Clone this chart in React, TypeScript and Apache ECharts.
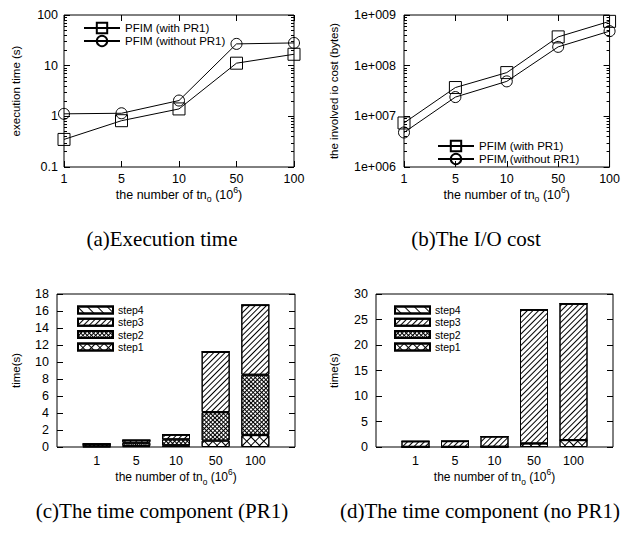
import React, { useEffect, useRef } from 'react';
import * as echarts from 'echarts';

// ---------- data ----------
const categories = ['1', '5', '10', '50', '100'];
const seriesNames = ['PFIM (with PR1)', 'PFIM (without PR1)'];
const execWithPR1 = [0.35, 0.82, 1.4, 11.2, 16.8];
const execWithoutPR1 = [1.12, 1.15, 2.05, 26.9, 28.1];
const ioWithPR1 = [7.4e6, 3.7e7, 7.3e7, 3.7e8, 7.5e8];
const ioWithoutPR1 = [4.8e6, 2.4e7, 4.9e7, 2.35e8, 4.8e8];

const stepNames = ['step1', 'step2', 'step3', 'step4'];
const pr1Step1 = [0.05, 0.1, 0.2, 0.75, 1.4];
const pr1Step2 = [0.25, 0.4, 0.7, 3.35, 7.1];
const pr1Step3 = [0.05, 0.3, 0.55, 7.1, 8.2];
const pr1Step4 = [0, 0, 0, 0, 0];
const noPr1Step1 = [0.03, 0.03, 0.05, 0.7, 1.35];
const noPr1Step2 = [0, 0, 0, 0, 0];
const noPr1Step3 = [1.09, 1.12, 2.0, 26.2, 26.75];
const noPr1Step4 = [0, 0, 0, 0, 0];

const execDecades = [-1, 0, 1, 2]; // 0.1 .. 100
const ioDecades = [6, 7, 8, 9]; // 1e6 .. 1e9

const captions = [
  '(a)Execution time',
  '(b)The I/O cost',
  '(c)The time component (PR1)',
  '(d)The time component (no PR1)',
];
const xName = 'the number of tn{sub|o} (10{sup|6})';

// ---------- helpers ----------
const SANS = '"Liberation Sans", Arial, Helvetica, sans-serif';
const SERIF = '"Liberation Serif", "Times New Roman", Times, serif';

const minorOf = (decades: number[]) => {
  const out: number[] = [];
  for (let i = 0; i < decades.length - 1; i++) {
    for (let k = 2; k <= 9; k++) out.push(decades[i] + Math.log10(k));
  }
  return out;
};

const pad = (arr: number[]) => [null, ...arr, null];
const padCats = ['', ...categories, ''];

const gridRows = (cell: number) => {
  const rows: number[][] = [[1, 0]];
  for (let i = 0; i < cell - 1; i++) rows.push([1, cell - 1]);
  return rows;
};

const decals: any = {
  step4: { symbol: 'rect', symbolSize: 1, dashArrayX: [1, 0], dashArrayY: [1, 6], rotation: Math.PI / 4, color: '#000' },
  step3: { symbol: 'rect', symbolSize: 1, dashArrayX: [1, 0], dashArrayY: [1, 2.5], rotation: -Math.PI / 4, color: '#000' },
  step2: { symbol: 'rect', symbolSize: 1, dashArrayX: gridRows(3), dashArrayY: [1, 0], rotation: Math.PI / 4, color: '#000' },
  step1: { symbol: 'rect', symbolSize: 1, dashArrayX: gridRows(6), dashArrayY: [1, 0], rotation: Math.PI / 4, color: '#000' },
};

const nameStyle = (fs: number) => ({
  color: '#000',
  fontFamily: SANS,
  fontSize: fs,
  lineHeight: 18,
  rich: {
    sub: { fontFamily: SANS, fontSize: fs * 0.7, lineHeight: 8, verticalAlign: 'bottom', color: '#000' },
    sup: { fontFamily: SANS, fontSize: fs * 0.7, lineHeight: 8, verticalAlign: 'top', color: '#000' },
  },
});

export default function App() {
  const ref = useRef<HTMLDivElement>(null);
  useEffect(() => {
    document.body.style.margin = '0';
    if (!ref.current) return;
    const chart = echarts.init(ref.current, null, { renderer: 'svg' });

    const grids = [
      { left: 64, top: 15, width: 230, height: 152 },
      { left: 404, top: 15, width: 209, height: 152 },
      { left: 57, top: 294, width: 238, height: 153 },
      { left: 376, top: 294, width: 237, height: 153 },
    ].map((g) => ({ ...g, show: true, borderColor: '#000', borderWidth: 1, backgroundColor: 'transparent', containLabel: false }));

    const catAxisBottom = (gi: number, fs: number, gap: number) => ({
      type: 'category',
      gridIndex: gi,
      data: categories,
      boundaryGap: false,
      position: 'bottom',
      axisLine: { show: false, onZero: false },
      axisTick: { show: true, inside: true, length: 6, lineStyle: { color: '#000' } },
      axisLabel: { color: '#000', fontFamily: SANS, fontSize: 12.5, margin: 5 },
      splitLine: { show: false },
      name: xName,
      nameLocation: 'middle',
      nameGap: gap,
      nameTextStyle: nameStyle(fs),
    });
    const catAxisTop = (gi: number) => ({
      type: 'category',
      gridIndex: gi,
      data: categories,
      boundaryGap: false,
      position: 'top',
      axisLine: { show: false, onZero: false },
      axisTick: { show: true, inside: true, length: 6, lineStyle: { color: '#000' } },
      axisLabel: { show: false },
      splitLine: { show: false },
    });
    const barCatAxis = (gi: number) => ({
      type: 'category',
      gridIndex: gi,
      data: padCats,
      boundaryGap: false,
      position: 'bottom',
      axisLine: { show: false, onZero: false },
      axisTick: { show: false },
      axisLabel: { color: '#000', fontFamily: SANS, fontSize: 12.5, margin: 7, interval: 0 },
      splitLine: { show: false },
      name: xName,
      nameLocation: 'middle',
      nameGap: 19,
      nameTextStyle: nameStyle(12),
    });

    const tickAxis = (gi: number, pos: string, min: number, max: number, values: number[], len: number) => ({
      type: 'value',
      gridIndex: gi,
      position: pos,
      min,
      max,
      axisLine: { show: false, onZero: false },
      axisLabel: { show: false },
      splitLine: { show: false },
      axisTick: { show: true, inside: true, length: len, customValues: values, lineStyle: { color: '#000' } },
    });

    const logAxis = (gi: number, min: number, max: number, fmt: (v: number) => string, name: string, gap: number, margin: number) => ({
      type: 'log',
      logBase: 10,
      gridIndex: gi,
      position: 'left',
      min,
      max,
      axisLine: { show: false, onZero: false },
      axisTick: { show: true, inside: true, length: 6, lineStyle: { color: '#000' } },
      axisLabel: { color: '#000', fontFamily: SANS, fontSize: 12.5, margin, formatter: fmt },
      splitLine: { show: false },
      minorTick: { show: false },
      name,
      nameLocation: 'middle',
      nameGap: gap,
      nameTextStyle: { color: '#000', fontFamily: SANS, fontSize: 11.5 },
    });

    const linAxis = (gi: number, pos: string, max: number, interval: number, withLabel: boolean, gap: number) => ({
      type: 'value',
      gridIndex: gi,
      position: pos,
      min: 0,
      max,
      interval,
      axisLine: { show: false, onZero: false },
      axisTick: { show: true, inside: true, length: 6, lineStyle: { color: '#000' } },
      axisLabel: { show: withLabel, color: '#000', fontFamily: SANS, fontSize: 12.5, margin: 8 },
      splitLine: { show: false },
      ...(withLabel
        ? { name: 'time(s)', nameLocation: 'middle', nameGap: gap, nameTextStyle: { color: '#000', fontFamily: SANS, fontSize: 11.5 } }
        : {}),
    });

    const execFmt = (v: number) => (v < 1 ? String(Number(v.toPrecision(1))) : String(Math.round(v)));
    const ioFmt = (v: number) => '1e+' + String(Math.round(Math.log10(v))).padStart(3, '0');

    const xAxis = [
      catAxisBottom(0, 12.5, 11),
      catAxisTop(0),
      catAxisBottom(1, 12.5, 11),
      catAxisTop(1),
      barCatAxis(2),
      barCatAxis(3),
    ];
    const yAxis = [
      logAxis(0, 0.1, 100, execFmt, 'execution time (s)', 42, 6),
      tickAxis(0, 'left', -1, 2, minorOf(execDecades), 3),
      tickAxis(0, 'right', -1, 2, execDecades, 6),
      tickAxis(0, 'right', -1, 2, minorOf(execDecades), 3),
      logAxis(1, 1e6, 1e9, ioFmt, 'the involved io cost (bytes)', 64, 8),
      tickAxis(1, 'left', 6, 9, minorOf(ioDecades), 3),
      tickAxis(1, 'right', 6, 9, ioDecades, 6),
      tickAxis(1, 'right', 6, 9, minorOf(ioDecades), 3),
      linAxis(2, 'left', 18, 2, true, 35),
      linAxis(2, 'right', 18, 2, false, 0),
      linAxis(3, 'left', 30, 5, true, 36),
      linAxis(3, 'right', 30, 5, false, 0),
    ];

    const lineSeries = (name: string, data: number[], xi: number, yi: number, symbol: string, size: number) => ({
      type: 'line',
      name,
      xAxisIndex: xi,
      yAxisIndex: yi,
      data,
      symbol,
      symbolSize: size,
      showSymbol: true,
      itemStyle: { color: 'rgba(0,0,0,0)', borderColor: '#000', borderWidth: 1 },
      lineStyle: { color: '#000', width: 1 },
      emphasis: { disabled: true },
      z: 3,
    });

    const barSeries = (name: string, data: number[], stack: string, xi: number, yi: number) => ({
      type: 'bar',
      name,
      stack,
      xAxisIndex: xi,
      yAxisIndex: yi,
      data: pad(data),
      barWidth: 28,
      itemStyle: { color: '#fff', borderColor: '#000', borderWidth: 1, decal: decals[name] },
      emphasis: { disabled: true },
    });

    const pr1Steps = [pr1Step1, pr1Step2, pr1Step3, pr1Step4];
    const noPr1Steps = [noPr1Step1, noPr1Step2, noPr1Step3, noPr1Step4];

    const series: any[] = [
      lineSeries(seriesNames[0], execWithPR1, 0, 0, 'rect', 12),
      lineSeries(seriesNames[1], execWithoutPR1, 0, 0, 'circle', 11),
      lineSeries(seriesNames[0], ioWithPR1, 2, 4, 'rect', 12),
      lineSeries(seriesNames[1], ioWithoutPR1, 2, 4, 'circle', 11),
      ...stepNames.map((n, i) => barSeries(n, pr1Steps[i], 'pr1', 4, 8)),
      ...stepNames.map((n, i) => barSeries(n, noPr1Steps[i], 'nopr1', 5, 10)),
    ];

    const lineLegend = (name: string, left: number, centerY: number) => ({
      orient: 'vertical',
      left,
      top: centerY - 6.5,
      data: [name],
      itemWidth: 36,
      itemHeight: 13,
      itemGap: 0,
      selectedMode: false,
      textStyle: { color: '#000', fontFamily: SANS, fontSize: 11.5, lineHeight: 13 },
    });
    const barLegend = (left: number, top: number) => ({
      orient: 'vertical',
      left,
      top,
      data: [...stepNames].reverse(),
      icon: 'rect',
      itemWidth: 35,
      itemHeight: 7,
      itemGap: 0.3,
      selectedMode: false,
      textStyle: { color: '#000', fontFamily: SANS, fontSize: 10.5, lineHeight: 12 },
    });

    const captionPos = [
      [162, 239],
      [476, 239],
      [162, 511],
      [480, 511],
    ];

    chart.setOption({
      animation: false,
      backgroundColor: '#fff',
      grid: grids,
      xAxis,
      yAxis,
      series,
      legend: [
        lineLegend(seriesNames[0], 78, 23),
        lineLegend(seriesNames[1], 78, 36),
        lineLegend(seriesNames[0], 432, 141),
        lineLegend(seriesNames[1], 432, 154),
        barLegend(72, 299),
        barLegend(389, 299),
      ],
      graphic: captions.map((t, i) => ({
        type: 'text',
        x: captionPos[i][0],
        y: captionPos[i][1],
        style: {
          text: t,
          fill: '#000',
          font: `21px ${SERIF}`,
          textAlign: 'center',
          textVerticalAlign: 'middle',
        },
      })),
    } as any);

    return () => chart.dispose();
  }, []);

  return <div ref={ref} style={{ width: 623, height: 536 }} />;
}
